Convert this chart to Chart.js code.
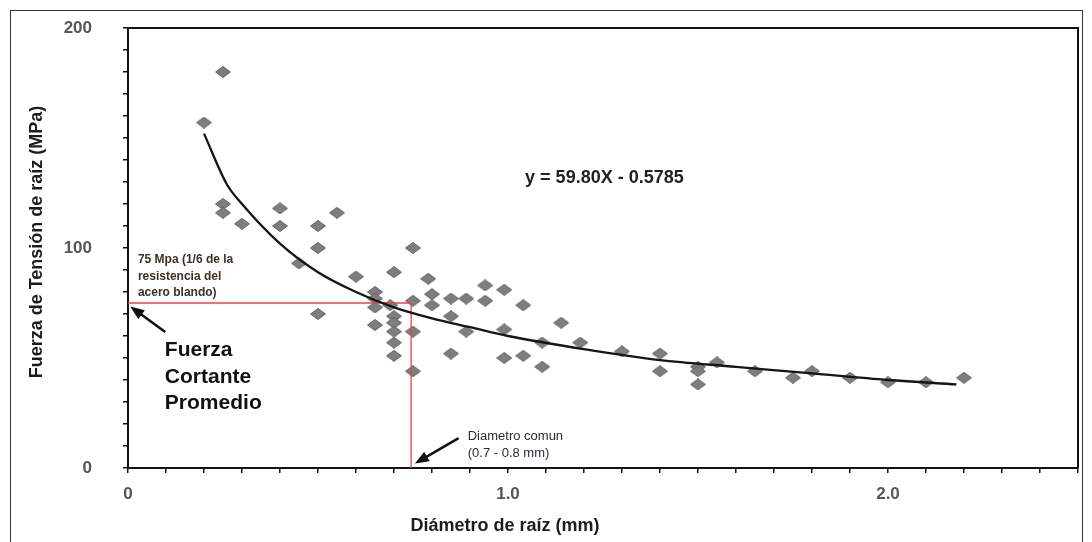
<!DOCTYPE html>
<html>
<head>
<meta charset="utf-8">
<script src="https://cdn.jsdelivr.net/npm/chart.js@4.4.1/dist/chart.umd.min.js"></script>
<style>
  body { margin: 0; background: #fff; }
  #wrap { width: 1092px; height: 542px; position: relative; }
</style>
</head>
<body>
<div id="wrap"><canvas id="rootChart"></canvas></div>
<script>
// Datos (diametro en mm, tension en MPa)
const rootDiameter = [0.20, 0.25, 0.25, 0.25, 0.30, 0.40, 0.40, 0.45, 0.50, 0.50, 0.50, 0.55,
  0.60, 0.65, 0.65, 0.65, 0.65, 0.69, 0.70, 0.70, 0.70, 0.70, 0.70, 0.70,
  0.75, 0.75, 0.75, 0.75, 0.79, 0.80, 0.80, 0.85, 0.85, 0.85, 0.89, 0.89,
  0.94, 0.94, 0.99, 0.99, 0.99, 1.04, 1.04, 1.09, 1.09, 1.14, 1.19, 1.30,
  1.40, 1.40, 1.50, 1.50, 1.50, 1.55, 1.65, 1.75, 1.80, 1.90, 2.00, 2.10, 2.20];
const tensileStrength = [157, 180, 120, 116, 111, 118, 110, 93, 110, 100, 70, 116,
  87, 80, 77, 73, 65, 74, 89, 69, 66, 62, 57, 51,
  100, 76, 62, 44, 86, 79, 74, 77, 69, 52, 77, 62,
  83, 76, 81, 63, 50, 74, 51, 57, 46, 66, 57, 53,
  52, 44, 46, 44, 38, 48, 44, 41, 44, 41, 39, 39, 41];

// Curva de ajuste (y = 59.80X - 0.5785), puntos leidos sobre la linea
const trendX = [0.20, 0.26, 0.30, 0.40, 0.50, 0.60, 0.70, 0.80, 0.90, 1.00, 1.20, 1.40, 1.60, 1.80, 2.00, 2.18];
const trendY = [152, 129, 120, 102, 89, 80, 73, 68, 64, 60, 54, 49, 46, 43, 40, 38];

// Lineas rojas de referencia (75 MPa / diametro 0.75 mm)
const refX = [0, 0.745, 0.745];
const refY = [75, 75, 0];

const xTickLabels = ['0', '1.0', '2.0'];
const yTickLabels = ['0', '100', '200'];

const FONT = "'Liberation Sans', Arial, sans-serif";

// diamante gris algo aplanado como en el original
function makeDiamond() {
  const c = document.createElement('canvas');
  c.width = 16; c.height = 12;
  const g = c.getContext('2d');
  g.beginPath();
  g.moveTo(8, 0.5);
  g.lineTo(15.5, 6);
  g.lineTo(8, 11.5);
  g.lineTo(0.5, 6);
  g.closePath();
  g.fillStyle = '#7e7e7e';
  g.fill();
  g.lineWidth = 1;
  g.strokeStyle = '#636363';
  g.stroke();
  return c;
}

function toXY(xs, ys) {
  return xs.map((x, i) => ({ x: x, y: ys[i] }));
}

function drawArrow(ctx, x1, y1, x2, y2) {
  const ang = Math.atan2(y2 - y1, x2 - x1);
  const len = 14, half = 5.5;
  ctx.save();
  ctx.strokeStyle = '#111';
  ctx.fillStyle = '#111';
  ctx.lineWidth = 2.5;
  ctx.beginPath();
  ctx.moveTo(x1, y1);
  ctx.lineTo(x2 - Math.cos(ang) * len * 0.7, y2 - Math.sin(ang) * len * 0.7);
  ctx.stroke();
  ctx.beginPath();
  ctx.moveTo(x2, y2);
  ctx.lineTo(x2 - Math.cos(ang) * len - Math.sin(ang) * half, y2 - Math.sin(ang) * len + Math.cos(ang) * half);
  ctx.lineTo(x2 - Math.cos(ang) * len + Math.sin(ang) * half, y2 - Math.sin(ang) * len - Math.cos(ang) * half);
  ctx.closePath();
  ctx.fill();
  ctx.restore();
}

// textos, flechas y marco
const annotations = {
  id: 'annotations',
  afterDraw(chart) {
    const ctx = chart.ctx;
    const xs = chart.scales.x, ys = chart.scales.y;
    const a = chart.chartArea;
    const px = v => xs.getPixelForValue(v);
    const py = v => ys.getPixelForValue(v);

    ctx.save();
    // marco exterior de la imagen
    ctx.strokeStyle = '#333';
    ctx.lineWidth = 1;
    ctx.strokeRect(10.5, 10.5, 1072, 545);

    // borde superior y derecho del area
    ctx.strokeStyle = '#111';
    ctx.lineWidth = 2;
    ctx.beginPath();
    ctx.moveTo(a.left, a.top);
    ctx.lineTo(a.right, a.top);
    ctx.lineTo(a.right, a.bottom);
    ctx.stroke();

    ctx.textBaseline = 'middle';
    ctx.textAlign = 'left';

    ctx.fillStyle = '#3b3129';
    ctx.font = 'bold 12px ' + FONT;
    ctx.fillText('75 Mpa (1/6 de la', px(0.026), py(94.5));
    ctx.fillText('resistencia del', px(0.026), py(86.8));
    ctx.fillText('acero blando)', px(0.026), py(79.5));

    ctx.fillStyle = '#111';
    ctx.font = 'bold 21px ' + FONT;
    ctx.fillText('Fuerza', px(0.097), py(53.6));
    ctx.fillText('Cortante', px(0.097), py(41.4));
    ctx.fillText('Promedio', px(0.097), py(29.5));

    ctx.fillStyle = '#222';
    ctx.font = 'bold 18px ' + FONT;
    ctx.fillText('y = 59.80X - 0.5785', px(1.045), py(131.8));

    ctx.fillStyle = '#2a2a33';
    ctx.font = '13px ' + FONT;
    ctx.fillText('Diametro comun', px(0.894), py(14.5));
    ctx.fillText('(0.7 - 0.8 mm)', px(0.894), py(6.8));

    drawArrow(ctx, px(0.098), py(61.8), px(0.006), py(73.4));
    drawArrow(ctx, px(0.87), py(13.6), px(0.755), py(2.0));

    // titulos de los ejes
    ctx.fillStyle = '#1c1c1c';
    ctx.font = 'bold 18px ' + FONT;
    ctx.textAlign = 'center';
    ctx.fillText('Diámetro de raíz (mm)', 505, 526);
    ctx.translate(37, 242);
    ctx.rotate(-Math.PI / 2);
    ctx.fillText('Fuerza de Tensión de raíz (MPa)', 0, 0);
    ctx.restore();
  }
};

const ctx = document.getElementById('rootChart').getContext('2d');
const rootChart = new Chart(ctx, {
  type: 'scatter',
  data: {
    datasets: [{
      label: 'Tension',
      data: toXY(rootDiameter, tensileStrength),
      pointStyle: makeDiamond(),
      pointRadius: 7,
      order: 3,
    }, {
      type: 'line',
      label: 'Referencia',
      data: toXY(refX, refY),
      borderColor: '#e8414d',
      borderWidth: 1.3,
      pointRadius: 0,
      tension: 0,
      fill: false,
      order: 2,
    }, {
      type: 'line',
      label: 'Ajuste',
      data: toXY(trendX, trendY),
      borderColor: '#151515',
      borderWidth: 2.3,
      pointRadius: 0,
      cubicInterpolationMode: 'monotone',
      fill: false,
      order: 1,
    }],
  },
  options: {
    responsive: true,
    maintainAspectRatio: false,
    animation: false,
    events: [],
    layout: { padding: { top: 28, right: 14, left: 0, bottom: 0 } },
    plugins: {
      legend: { display: false },
      tooltip: { enabled: false },
    },
    scales: {
      x: {
        type: 'linear',
        min: 0,
        max: 2.5,
        afterFit: (scale) => {
          scale.height = 74;
          scale.paddingTop = 0; scale.paddingBottom = 0;
          scale.paddingLeft = 0; scale.paddingRight = 0;
        },
        border: { color: '#111', width: 2 },
        grid: { drawOnChartArea: false, drawTicks: true, tickLength: 5, color: '#111', lineWidth: 1.5 },
        ticks: {
          stepSize: 0.1,
          autoSkip: false,
          maxRotation: 0,
          padding: 11,
          color: '#555',
          font: { family: FONT, size: 17, weight: 'bold' },
          callback: (v) => {
            const r = Math.round(v);
            return Math.abs(v - r) < 1e-6 && r <= 2 ? xTickLabels[r] : '';
          },
        },
      },
      y: {
        min: 0,
        max: 200,
        afterFit: (scale) => {
          scale.width = 128;
          scale.paddingTop = 0; scale.paddingBottom = 0;
        },
        border: { color: '#111', width: 2 },
        grid: { drawOnChartArea: false, drawTicks: true, tickLength: 5, color: '#111', lineWidth: 1.5 },
        ticks: {
          stepSize: 10,
          autoSkip: false,
          padding: 31,
          color: '#555',
          font: { family: FONT, size: 17, weight: 'bold' },
          callback: (v) => (v % 100 === 0 ? yTickLabels[v / 100] : ''),
        },
      },
    },
  },
  plugins: [annotations],
});
</script>
</body>
</html>
